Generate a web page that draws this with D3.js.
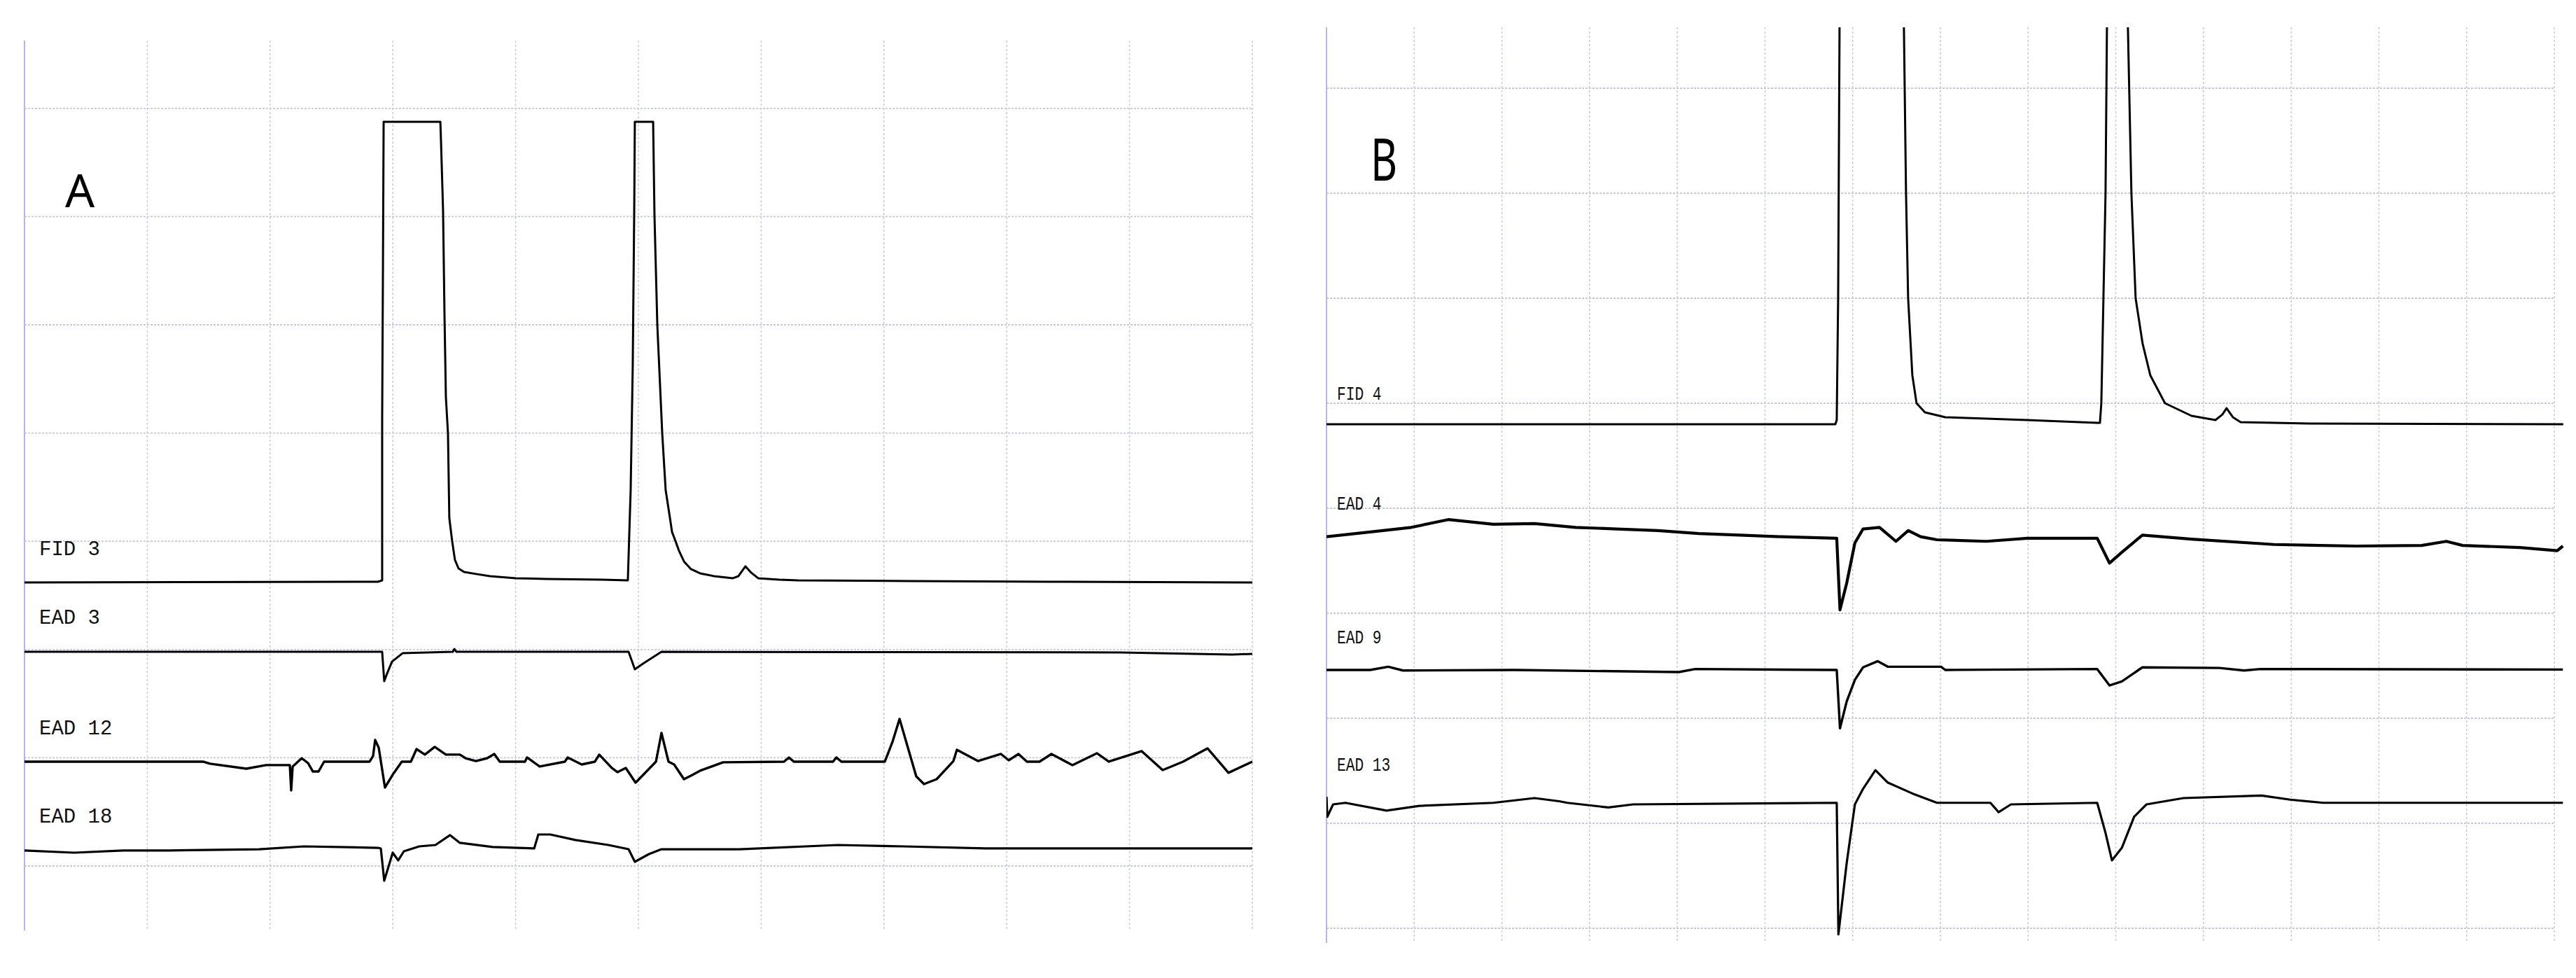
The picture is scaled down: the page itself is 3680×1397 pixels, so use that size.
<!DOCTYPE html>
<html><head><meta charset="utf-8">
<script src="https://cdn.jsdelivr.net/npm/d3@7"></script>
<style>html,body{margin:0;padding:0;background:#fff;}svg{display:block;}</style>
</head><body>
<script>
// ---------- DATA (time in grid units, signal in grid-row units relative to each trace's baseline) ----------
const gridColsA = d3.range(1, 11);
const gridRowsA = d3.range(1, 9);
const gridColsB = d3.range(1, 15);
const gridRowsB = d3.range(1, 10);

const panelLabels = ["A", "B"];
const traceNamesA = ["FID 3", "EAD 3", "EAD 12", "EAD 18"];
const traceNamesB = ["FID 4", "EAD 4", "EAD 9", "EAD 13"];

const fid3 = [[0,0],[2.879,0.006],[2.913,0.019],[2.913,1.5],[2.919,2.794],[2.925,4.256],[3.387,4.256],[3.392,4.088],[3.409,3.441],[3.421,2.452],[3.432,1.714],[3.449,1.378],[3.46,0.595],[3.483,0.382],[3.506,0.207],[3.535,0.129],[3.58,0.097],[3.677,0.078],[3.791,0.058],[4.002,0.039],[4.247,0.032],[4.704,0.026],[4.914,0.019],[4.937,0.854],[4.954,2.005],[4.966,3.441],[4.971,4.256],[5.12,4.256],[5.131,3.389],[5.154,2.38],[5.194,1.378],[5.222,0.854],[5.257,0.595],[5.274,0.466],[5.302,0.382],[5.331,0.291],[5.371,0.194],[5.428,0.123],[5.502,0.084],[5.616,0.058],[5.77,0.039],[5.815,0.058],[5.872,0.149],[5.918,0.091],[5.975,0.039],[6.146,0.026],[6.3,0.019],[7.212,0.013],[8.352,0.006],[10,0]];
const ead3 = [[0,0],[2.913,0],[2.93,-0.272],[2.953,-0.201],[2.993,-0.091],[3.079,-0.013],[3.489,0],[3.5,0.026],[3.518,0],[4.92,0],[4.971,-0.162],[5.046,-0.103],[5.188,0],[8.922,-0.006],[9.835,-0.026],[10,-0.019]];
const ead12 = [[0,0],[1.454,0],[1.511,-0.019],[1.807,-0.065],[1.967,-0.032],[2.161,-0.032],[2.172,-0.265],[2.184,-0.045],[2.258,0.032],[2.309,-0.013],[2.349,-0.091],[2.395,-0.091],[2.44,0],[2.811,0],[2.839,0.052],[2.856,0.201],[2.885,0.129],[2.936,-0.239],[3.005,-0.11],[3.073,0],[3.147,0],[3.193,0.116],[3.261,0.065],[3.341,0.136],[3.432,0.065],[3.546,0.065],[3.592,0.032],[3.677,0.006],[3.769,0.032],[3.826,0.071],[3.871,0],[4.076,0],[4.093,0.039],[4.196,-0.045],[4.401,0],[4.424,0.039],[4.538,-0.026],[4.646,0],[4.681,0.065],[4.783,-0.058],[4.829,-0.097],[4.897,-0.058],[4.977,-0.194],[5.143,0],[5.188,0.265],[5.245,0],[5.291,-0.026],[5.371,-0.162],[5.439,-0.123],[5.502,-0.084],[5.69,-0.006],[6.186,0],[6.226,0.039],[6.266,0],[6.585,0],[6.613,0.039],[6.653,0],[7.007,0],[7.069,0.181],[7.127,0.395],[7.195,0.129],[7.263,-0.136],[7.326,-0.207],[7.429,-0.162],[7.566,0.006],[7.594,0.11],[7.765,0.006],[7.953,0.071],[8.016,0.013],[8.096,0.071],[8.164,0],[8.267,0],[8.364,0.071],[8.535,-0.032],[8.734,0.078],[8.831,0],[9.099,0.097],[9.27,-0.078],[9.436,0],[9.635,0.123],[9.806,-0.103],[10,0]];
const ead18 = [[0,-0.006],[0.405,-0.026],[0.804,-0.006],[1.174,-0.006],[1.91,0.006],[2.275,0.032],[2.879,0.019],[2.902,0.013],[2.93,-0.285],[2.999,-0.026],[3.044,-0.097],[3.09,-0.013],[3.215,0.032],[3.347,0.045],[3.466,0.136],[3.546,0.065],[3.814,0.026],[4.151,0.013],[4.185,0.142],[4.282,0.142],[4.487,0.091],[4.755,0.045],[4.92,0.006],[4.971,-0.11],[5.086,-0.039],[5.188,0.006],[5.821,0.006],[6.625,0.045],[7.161,0.032],[7.828,0.013],[10,0.013]];

const fid4 = [[0,0],[5.802,0],[5.818,0.04],[5.834,1.2],[5.85,3.78],[5.882,5.04],[6.536,5.04],[6.584,3.78],[6.608,2.2],[6.632,1.2],[6.68,0.467],[6.728,0.2],[6.824,0.113],[7.055,0.067],[7.989,0.04],[8.787,0.013],[8.819,0.013],[8.835,0.2],[8.859,1.2],[8.883,2.2],[8.899,3.78],[8.931,5.04],[9.106,5.04],[9.138,3.78],[9.178,2.2],[9.226,1.2],[9.306,0.767],[9.393,0.467],[9.561,0.2],[9.864,0.08],[10.136,0.04],[10.215,0.093],[10.263,0.153],[10.335,0.067],[10.423,0.02],[11.213,0.007],[14.102,0]];
const ead4 = [[0,0.002],[0.498,0.047],[0.967,0.091],[1.388,0.165],[1.903,0.121],[2.372,0.127],[2.84,0.091],[3.308,0.076],[3.777,0.061],[4.245,0.032],[4.713,0.017],[5.181,0.002],[5.818,-0.013],[5.855,-0.694],[5.931,-0.442],[6.025,-0.057],[6.118,0.076],[6.306,0.091],[6.493,-0.042],[6.634,0.061],[6.774,0.002],[6.961,-0.027],[7.524,-0.042],[7.991,-0.013],[8.788,-0.013],[8.928,-0.249],[9.069,-0.146],[9.303,0.017],[9.865,-0.021],[10.802,-0.072],[11.738,-0.087],[12.488,-0.081],[12.769,-0.042],[12.955,-0.081],[13.611,-0.101],[14.033,-0.131],[14.098,-0.087]];
const ead9 = [[0,0],[0.498,0],[0.704,0.031],[0.872,-0.005],[2.149,0],[4.018,-0.02],[4.205,0.009],[5.818,0],[5.855,-0.555],[5.931,-0.301],[6.025,-0.094],[6.118,0.025],[6.286,0.084],[6.399,0.031],[7.008,0.031],[7.055,0],[8.788,0.009],[8.928,-0.147],[9.069,-0.109],[9.303,0.025],[10.182,0.019],[10.463,-0.005],[10.651,0.009],[14.098,0.004]];
const ead13 = [[0,0.06],[0.009,-0.131],[0.075,-0.013],[0.215,0.002],[0.685,-0.072],[1.06,-0.027],[1.903,0.002],[2.372,0.047],[2.652,0.017],[2.746,0.002],[3.214,-0.042],[3.496,-0.013],[5.818,0.002],[5.837,-1.251],[5.931,-0.575],[6.025,-0.013],[6.118,0.135],[6.259,0.313],[6.399,0.195],[6.68,0.091],[6.961,0.002],[7.57,0.002],[7.664,-0.087],[7.804,-0.013],[8.788,0.002],[8.881,-0.279],[8.956,-0.546],[9.069,-0.427],[9.209,-0.131],[9.35,-0.013],[9.771,0.047],[10.661,0.071],[10.989,0.032],[11.363,0.002],[14.098,0.002]];

// ---------- LAYOUT ----------
const W = 3680, H = 1397;
const svg = d3.select("body").append("svg").attr("width", W).attr("height", H);
svg.append("rect").attr("width", W).attr("height", H).attr("fill", "#fff");

const panels = [
  { label: panelLabels[0], xDom:[0,10], xRng:[35,1789], yDom:[0,8], yRng:[1391.6,154.8],
    top:58, bottom:1329, right:1792, cols:gridColsA, rows:gridRowsA,
    letter:{x:93, y:296, size:66, sx:1.0},
    labelFont:29, charW:17.4, labelX:56,
    traces:[ {name:traceNamesA[0], data:fid3, base:3.620, ly:793},
             {name:traceNamesA[1], data:ead3, base:2.979, ly:891},
             {name:traceNamesA[2], data:ead12, base:1.964, ly:1049, sw:3.4},
             {name:traceNamesA[3], data:ead18, base:1.149, ly:1175, sw:3.2} ] },
  { label: panelLabels[1], xDom:[0,14], xRng:[1895,3649], yDom:[0,9], yRng:[1476,126],
    top:39, bottom:1347, right:3665, cols:gridColsB, rows:gridRowsB,
    letter:{x:1958, y:258, size:84, sx:0.7},
    labelFont:27, charW:12.7, labelX:1910,
    traces:[ {name:traceNamesB[0], data:fid4, base:5.8, ly:571},
             {name:traceNamesB[1], data:ead4, base:4.727, ly:728, sw:4.2},
             {name:traceNamesB[2], data:ead9, base:3.46, ly:919, sw:3.4},
             {name:traceNamesB[3], data:ead13, base:2.193, ly:1101, sw:3.2} ] }
];

const gridColor = "#c6c6f4";
panels.forEach((p, i) => {
  const x = d3.scaleLinear().domain(p.xDom).range(p.xRng);
  const y = d3.scaleLinear().domain(p.yDom).range(p.yRng);
  const g = svg.append("g");

  // grid
  g.selectAll(".vg").data(p.cols).join("line")
    .attr("x1", d => x(d)).attr("x2", d => x(d))
    .attr("y1", p.top).attr("y2", p.bottom)
    .attr("stroke", gridColor).attr("stroke-width", 1.5).attr("stroke-dasharray", "3,3");
  g.selectAll(".hg").data(p.rows).join("line")
    .attr("x1", p.xRng[0]).attr("x2", x(p.xDom[1]))
    .attr("y1", d => y(d)).attr("y2", d => y(d))
    .attr("stroke", gridColor).attr("stroke-width", 1.8).attr("stroke-dasharray", "3,2");
  // left axis
  g.append("line").attr("x1", p.xRng[0]).attr("x2", p.xRng[0])
    .attr("y1", p.top).attr("y2", p.bottom)
    .attr("stroke", "#b4b4f0").attr("stroke-width", 2);

  // clip
  const cid = "clip" + i;
  svg.append("clipPath").attr("id", cid).append("rect")
    .attr("x", p.xRng[0]).attr("y", p.top).attr("width", p.right - p.xRng[0]).attr("height", p.bottom - p.top);

  // traces
  const tg = g.append("g").attr("clip-path", `url(#${cid})`);
  p.traces.forEach(t => {
    const line = d3.line().x(d => x(d[0])).y(d => y(d[1] + t.base));
    tg.append("path").attr("d", line(t.data))
      .attr("fill", "none").attr("stroke", "#000")
      .attr("stroke-width", t.sw || 3).attr("stroke-linejoin", "round");
  });

  // trace labels
  p.traces.forEach(t => {
    g.append("text").attr("x", p.labelX).attr("y", t.ly)
      .attr("font-family", "'Liberation Mono', 'DejaVu Sans Mono', monospace")
      .attr("font-size", p.labelFont).attr("fill", "#111")
      .attr("textLength", t.name.length * p.charW).attr("lengthAdjust", "spacingAndGlyphs")
      .text(t.name);
  });

  // panel letter
  g.append("text")
    .attr("transform", `translate(${p.letter.x},${p.letter.y}) scale(${p.letter.sx},1)`)
    .attr("font-family", "'Noto Sans', 'Open Sans', sans-serif")
    .attr("font-size", p.letter.size).attr("fill", "#000")
    .text(p.label);
});
</script>
</body></html>
